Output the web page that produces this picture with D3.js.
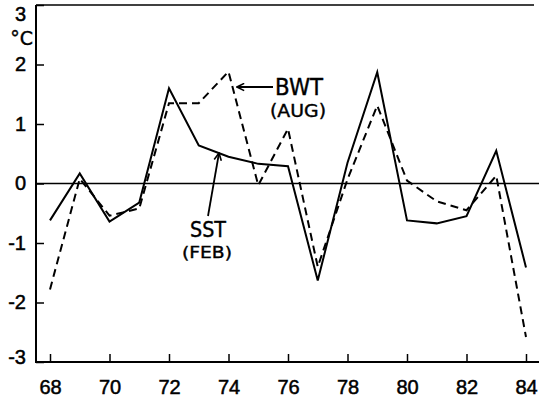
<!DOCTYPE html>
<html>
<head>
<meta charset="UTF-8">
<script src="https://d3js.org/d3.v7.min.js"></script>
<style>
    body { margin: 0; background: #fff; }
    svg { font-family: "DejaVu Sans", sans-serif; }
    .tick text { font-size: 20px; fill: #000; stroke: #000; stroke-width: 0.5px; }
    .lbl { fill: #000; stroke: #000; stroke-width: 0.4px; }
</style>
</head>
<body>
<div id="chart"></div>
<script>
    const years = [68, 69, 70, 71, 72, 73, 74, 75, 76, 77, 78, 79, 80, 81, 82, 83, 84];
    // SST (FEB), solid line
    const sst = [-0.62, 0.17, -0.64, -0.32, 1.6, 0.64, 0.45, 0.33, 0.29, -1.63, 0.35, 1.87, -0.62, -0.67, -0.55, 0.55, -1.41];
    // BWT (AUG), dashed line
    const bwt = [-1.78, 0.08, -0.54, -0.42, 1.35, 1.35, 1.88, -0.03, 0.92, -1.4, 0.07, 1.31, 0.05, -0.3, -0.45, 0.13, -2.58];
    const xTicks = [68, 70, 72, 74, 76, 78, 80, 82, 84];
    const yTicks = [-3, -2, -1, 0, 1, 2, 3];

    const width = 539, height = 397;
    const plotLeft = 36, plotTop = 5, plotBottom = 362, plotRight = 539;

    const svg = d3.select("#chart").append("svg")
        .attr("width", width)
        .attr("height", height);

    const x = d3.scaleLinear().domain([68, 84]).range([50, 526]);
    const y = d3.scaleLinear().domain([-3, 3]).range([plotBottom, plotTop]);

    // Axes (ticks pointing inward)
    const xAxis = svg.append("g")
        .attr("transform", `translate(0,${plotBottom})`)
        .call(d3.axisBottom(x).tickValues(xTicks).tickSizeInner(-8).tickSizeOuter(0).tickPadding(18).tickFormat(d => d));
    xAxis.select(".domain").remove();
    xAxis.selectAll("line").attr("stroke-width", 1.5);

    const yAxis = svg.append("g")
        .attr("transform", `translate(${plotLeft},0)`)
        .call(d3.axisLeft(y).tickValues(yTicks).tickSizeInner(-8).tickSizeOuter(0).tickPadding(10).tickFormat(d => d < 0 ? "-" + Math.abs(d) : d));
    yAxis.select(".domain").remove();
    yAxis.selectAll("line").attr("stroke-width", 1.5);
    yAxis.selectAll(".tick text").filter(d => d === 3).attr("transform", "translate(0,9)");
    yAxis.selectAll(".tick text").filter(d => d === -3).attr("transform", "translate(0,-5)");

    // frame: left, bottom, top
    svg.append("line").attr("x1", plotLeft).attr("x2", plotLeft).attr("y1", plotTop).attr("y2", plotBottom + 1)
        .attr("stroke", "#000").attr("stroke-width", 2);
    svg.append("line").attr("x1", plotLeft).attr("x2", plotRight).attr("y1", plotBottom).attr("y2", plotBottom)
        .attr("stroke", "#000").attr("stroke-width", 2);
    svg.append("line").attr("x1", plotLeft).attr("x2", 534).attr("y1", plotTop).attr("y2", plotTop)
        .attr("stroke", "#000").attr("stroke-width", 1.5);
    // zero line
    svg.append("line").attr("x1", plotLeft).attr("x2", plotRight).attr("y1", y(0)).attr("y2", y(0))
        .attr("stroke", "#000").attr("stroke-width", 1.3);

    // unit label
    svg.append("text").attr("class", "lbl").attr("x", 33).attr("y", 45)
        .attr("text-anchor", "end").attr("font-size", 19).text("°C");

    const line = d3.line().x((d, i) => x(years[i])).y(d => y(d));

    svg.append("path").datum(sst)
        .attr("d", line).attr("fill", "none").attr("stroke", "#000")
        .attr("stroke-width", 2).attr("stroke-linejoin", "miter");
    svg.append("path").datum(bwt)
        .attr("d", line).attr("fill", "none").attr("stroke", "#000")
        .attr("stroke-width", 2).attr("stroke-dasharray", "8,5");

    // arrow marker (open chevron)
    svg.append("defs").append("marker")
        .attr("id", "arrowhead")
        .attr("viewBox", "0 0 10 10")
        .attr("refX", 9).attr("refY", 5)
        .attr("markerWidth", 9).attr("markerHeight", 9)
        .attr("markerUnits", "userSpaceOnUse")
        .attr("orient", "auto")
        .append("path")
        .attr("d", "M 1 1 L 9 5 L 1 9")
        .attr("fill", "none").attr("stroke", "#000").attr("stroke-width", 1.8);

    // BWT label + arrow
    svg.append("line").attr("x1", 273).attr("y1", 87).attr("x2", 237).attr("y2", 87)
        .attr("stroke", "#000").attr("stroke-width", 1.8).attr("marker-end", "url(#arrowhead)");
    svg.append("text").attr("class", "lbl").attr("x", 275).attr("y", 95)
        .attr("font-size", 23).attr("textLength", 48).attr("lengthAdjust", "spacingAndGlyphs").text("BWT");
    svg.append("text").attr("class", "lbl").attr("x", 270).attr("y", 117)
        .attr("font-size", 17).attr("textLength", 56).attr("lengthAdjust", "spacingAndGlyphs").text("(AUG)");

    // SST label + arrow
    svg.append("line").attr("x1", 208).attr("y1", 216).attr("x2", 219).attr("y2", 153)
        .attr("stroke", "#000").attr("stroke-width", 1.8).attr("marker-end", "url(#arrowhead)");
    svg.append("text").attr("class", "lbl").attr("x", 190).attr("y", 237)
        .attr("font-size", 22).attr("textLength", 36).attr("lengthAdjust", "spacingAndGlyphs").text("SST");
    svg.append("text").attr("class", "lbl").attr("x", 182).attr("y", 258)
        .attr("font-size", 16).attr("textLength", 50).attr("lengthAdjust", "spacingAndGlyphs").text("(FEB)");
</script>
</body>
</html>
